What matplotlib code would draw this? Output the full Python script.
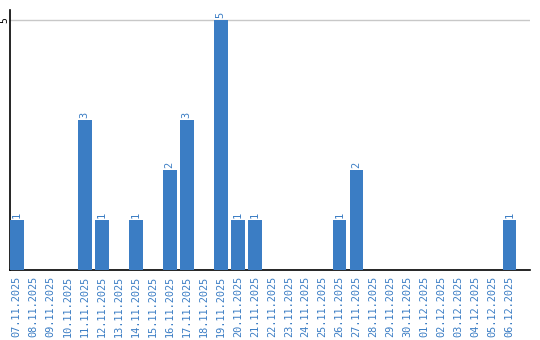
import matplotlib
matplotlib.use("Agg")
import matplotlib.pyplot as plt

dates = ["07.11.2025","08.11.2025","09.11.2025","10.11.2025","11.11.2025","12.11.2025",
         "13.11.2025","14.11.2025","15.11.2025","16.11.2025","17.11.2025","18.11.2025",
         "19.11.2025","20.11.2025","21.11.2025","22.11.2025","23.11.2025","24.11.2025",
         "25.11.2025","26.11.2025","27.11.2025","28.11.2025","29.11.2025","30.11.2025",
         "01.12.2025","02.12.2025","03.12.2025","04.12.2025","05.12.2025","06.12.2025"]
values = [1,0,0,0,3,1,0,1,0,2,3,0,5,1,1,0,0,0,0,1,2,0,0,0,0,0,0,0,0,1]

blue = "#3b7dc4"
W, H = 540, 340
fig = plt.figure(figsize=(W/100, H/100), dpi=100)
ax = fig.add_axes([10/W, 70/H, 520/W, 260/H])

x = list(range(len(dates)))
ax.bar(x, values, width=0.8, color=blue, zorder=3)
for xi, v in zip(x, values):
    if v > 0:
        ax.text(xi, v + 0.04, str(v), rotation=90, ha="center", va="bottom",
                color=blue, fontsize=7.5, family="DejaVu Sans Mono")

ax.set_xlim(-0.4, 30.2)
ax.set_ylim(0, 5.2)
ax.set_yticks([5])
ax.set_yticklabels(["5"], rotation=90, va="center", fontsize=7, family="DejaVu Sans Mono")
ax.tick_params(axis="y", length=0, pad=0.5)
ax.grid(axis="y", color="#c8c8c8", linewidth=1, zorder=0)
ax.set_xticks(x)
ax.set_xticklabels(dates, rotation=90, fontsize=7.4, family="DejaVu Sans Mono", color=blue)
ax.tick_params(axis="x", length=0, pad=4)
for s in ["top", "right"]:
    ax.spines[s].set_visible(False)
ax.spines["left"].set_color("black")
ax.spines["bottom"].set_color("black")
ax.spines["left"].set_linewidth(1.2)
ax.spines["bottom"].set_linewidth(1.2)

fig.savefig("out.png", dpi=100)
